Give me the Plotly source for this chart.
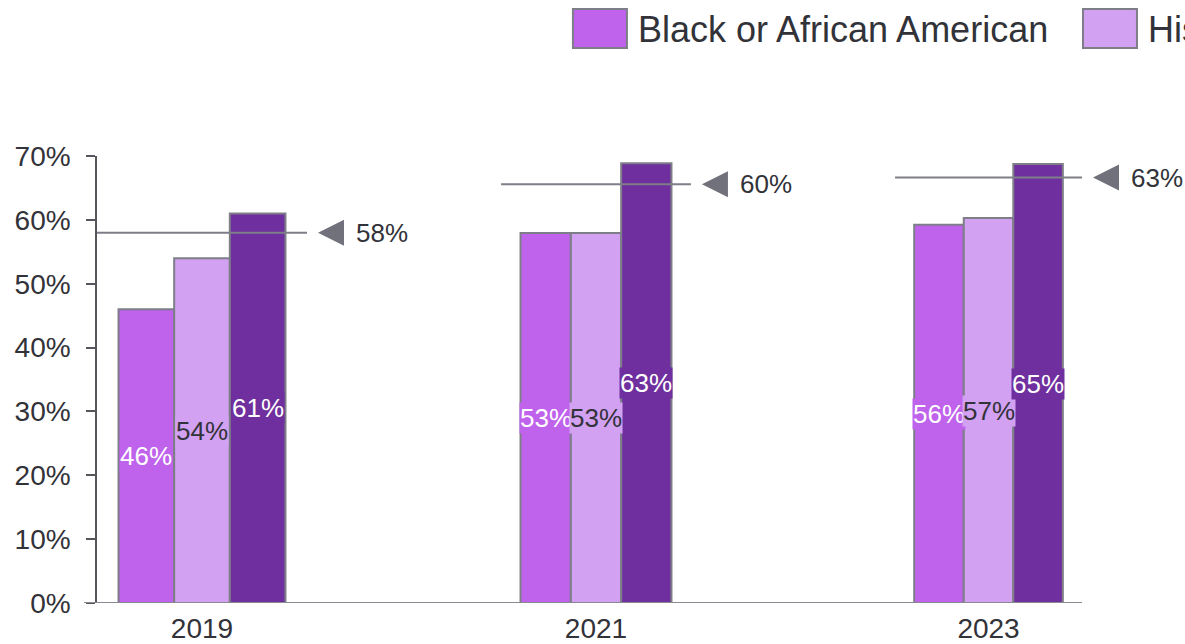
import plotly.graph_objects as go

# ---- data -------------------------------------------------------------
years = ["2019", "2021", "2023"]
groups = ["Black or African American", "Hispanic or Latino", "White"]
black_pct = [46, 53, 56]
hispanic_pct = [54, 53, 57]
white_pct = [61, 63, 65]
overall_pct = [58, 60, 63]
tick_vals = [0, 10, 20, 30, 40, 50, 60, 70]
tick_text = [f"{v}%" for v in tick_vals]

series = [black_pct, hispanic_pct, white_pct]

# ---- styling ----------------------------------------------------------
FONT = "Liberation Sans, Arial, Helvetica, sans-serif"
TEXT = "#323239"
BORDER = "#7E7E88"
bar_colors = ["#BF62EC", "#D2A1F2", "#6F2F9E"]
label_colors = ["#FFFFFF", TEXT, "#FFFFFF"]
BARGAP = 0.205

# every year is its own small panel with its own value scale
panel_domains = [[0.0, 0.2132], [0.4102, 0.6030], [0.8102, 1.0]]
panel_ymax = [70, 64.03, 66.2]

fig = go.Figure()
annotations = []
shapes = []
bar_w = (1 - BARGAP) / len(groups)

for i, year in enumerate(years):
    k = "" if i == 0 else str(i + 1)
    xa, ya = "x" + k, "y" + k
    for j, name in enumerate(groups):
        v = series[j][i]
        fig.add_trace(go.Bar(
            x=[year], y=[v], name=name, xaxis=xa, yaxis=ya,
            offsetgroup=str(j), showlegend=False,
            marker=dict(color=bar_colors[j], line=dict(color=BORDER, width=2)),
            hovertemplate=f"{name}<br>{year}: %{{y}}%<extra></extra>",
        ))
        annotations.append(dict(
            xref=xa, yref=ya, x=(j - 1) * bar_w, y=v / 2,
            text=f"{v}%", showarrow=False, bgcolor=bar_colors[j], borderpad=0,
            font=dict(family=FONT, size=26, color=label_colors[j]),
        ))
    # overall reference marker
    ov = overall_pct[i]
    shapes.append(dict(
        type="line", xref=xa + " domain", yref=ya, x0=0, x1=1, y0=ov, y1=ov,
        line=dict(color=BORDER, width=2), layer="above",
    ))
    shapes.append(dict(
        type="path", xref=xa + " domain", yref=ya,
        xsizemode="pixel", xanchor=1, ysizemode="pixel", yanchor=ov,
        path="M11,0 L37,13 L37,-13 Z", fillcolor="#71717B",
        line=dict(width=0),
    ))
    annotations.append(dict(
        xref=xa + " domain", yref=ya, x=1, y=ov, xanchor="left", xshift=47,
        text=f"{ov}%", showarrow=False,
        font=dict(family=FONT, size=26, color=TEXT),
    ))

# baseline along the bottom of all panels
shapes.append(dict(
    type="line", xref="paper", yref="y", x0=-13 / 985, x1=1, y0=0, y1=0,
    line=dict(color="#8A8A92", width=2), layer="above",
))

# legend drawn as swatches with labels across the top
legend_x = [0.4832, 1.0010, 1.38]
legend_w = 54 / 985
for j, name in enumerate(groups):
    x0 = legend_x[j]
    shapes.append(dict(
        type="rect", xref="paper", yref="paper",
        x0=x0, x1=x0 + legend_w, y0=1.2416, y1=1.3289,
        fillcolor=bar_colors[j], line=dict(color=BORDER, width=2),
    ))
    annotations.append(dict(
        xref="paper", yref="paper", x=x0 + legend_w + 9 / 985, y=1.2830,
        xanchor="left", yanchor="middle", text=name, showarrow=False,
        font=dict(family=FONT, size=36, color=TEXT),
    ))

layout = dict(
    width=1185, height=644,
    margin=dict(l=97, r=103, t=156, b=41, autoexpand=False),
    paper_bgcolor="white", plot_bgcolor="white",
    barmode="group", bargap=BARGAP, bargroupgap=0,
    font=dict(family=FONT, color=TEXT),
    showlegend=False,
    annotations=annotations, shapes=shapes,
)
for i in range(len(years)):
    k = "" if i == 0 else str(i + 1)
    layout["xaxis" + k] = dict(
        domain=panel_domains[i], anchor="y" + k, type="category",
        showgrid=False, showline=False, zeroline=False, ticks="",
        ticklabelstandoff=6,
        tickfont=dict(family=FONT, size=28, color=TEXT),
    )
    yax = dict(
        anchor="x" + k, range=[0, panel_ymax[i]], showgrid=False,
        zeroline=False, fixedrange=True,
    )
    if i == 0:
        yax.update(
            tickmode="array", tickvals=tick_vals, ticktext=tick_text,
            ticks="outside", ticklen=9, ticklabelstandoff=10,
            tickwidth=1.5, tickcolor="#55555C", showline=True,
            linecolor="#55555C", linewidth=1.5,
            tickfont=dict(family=FONT, size=28, color=TEXT),
        )
    else:
        yax.update(visible=False)
    layout["yaxis" + k] = yax

fig.update_layout(**layout)
fig.write_html("out.html")
